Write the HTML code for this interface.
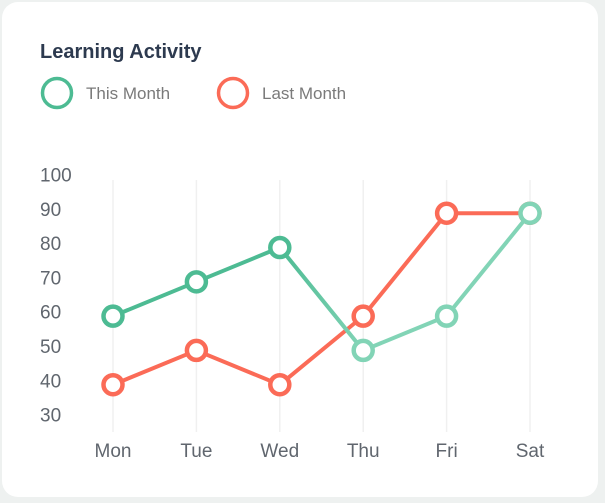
<!DOCTYPE html>
<html><head><meta charset="utf-8"><style>
html,body{margin:0;padding:0;width:605px;height:503px;background:#eef1f0;overflow:hidden;font-family:"Liberation Sans",sans-serif}
#card{position:absolute;left:2px;top:2px;width:596px;height:495px;background:#fff;border-radius:16px}
</style></head><body>
<div id="card"></div>
<svg id="chart" width="605" height="503" style="position:absolute;left:0;top:0">
<defs><linearGradient id="gg" gradientUnits="userSpaceOnUse" x1="280" y1="0" x2="363" y2="0"><stop offset="0" stop-color="#4dbb93"/><stop offset="1" stop-color="#82d4b6"/></linearGradient></defs>
<text x="40" y="58" font-size="20" font-weight="bold" fill="#2d3a4f">Learning Activity</text>
<g><circle cx="57" cy="93" r="14.5" fill="none" stroke="#4dbb93" stroke-width="3.5"/><text x="86" y="99" font-size="17" fill="#7a7a7a">This Month</text></g>
<g><circle cx="233" cy="93" r="14.5" fill="none" stroke="#fb6b57" stroke-width="3.5"/><text x="262" y="99" font-size="17" fill="#7a7a7a">Last Month</text></g>
<g id="grid"></g><g id="axes"></g><g id="series"></g>
</svg>
<script>
const categories=["Mon","Tue","Wed","Thu","Fri","Sat"];
const thisMonth=[59,69,79,49,59,89];
const lastMonth=[39,49,39,59,89,89];
const yTicks=[100,90,80,70,60,50,40,30];
const NS="http://www.w3.org/2000/svg";
const x=i=>113+i*83.4;
const y=v=>175.5+(100-v)*3.43;
function mk(t,a,p){const e=document.createElementNS(NS,t);for(const k in a)e.setAttribute(k,a[k]);p.appendChild(e);return e;}
const grid=document.getElementById('grid'),axes=document.getElementById('axes'),ser=document.getElementById('series');
categories.forEach((c,i)=>{
 const l=mk('line',{x1:x(i),x2:x(i),y1:180,y2:432,stroke:'#f0f0f0','stroke-width':1.5},grid);
 
 
 const t=mk('text',{x:x(i),y:457,'text-anchor':'middle','font-size':19,fill:'#60666e'},axes);t.textContent=c;
 
 
});
yTicks.forEach(v=>{
 const t=mk('text',{x:40,y:y(v)+6,'font-size':19,fill:'#60666e'},axes);t.textContent=v;
 
 
});
function draw(vals,name,colFn){
 for(let i=0;i<vals.length-1;i++){
  const l=mk('line',{x1:x(i),y1:y(vals[i]),x2:x(i+1),y2:y(vals[i+1]),stroke:colFn(i,true),'stroke-width':4,'stroke-linecap':'round'},ser);
  
  
 }
 vals.forEach((v,i)=>{
  const c=mk('circle',{cx:x(i),cy:y(v),r:9.5,fill:'#fff',stroke:colFn(i,false),'stroke-width':4.5},ser);
  
  
 });
}
draw(lastMonth,'last-month',()=> '#fb6b57');
draw(thisMonth,'this-month',(i,seg)=>seg?(i<2?'#4dbb93':i==2?'url(#gg)':'#82d4b6'):(i<3?'#4dbb93':'#82d4b6'));
</script>
</body></html>
